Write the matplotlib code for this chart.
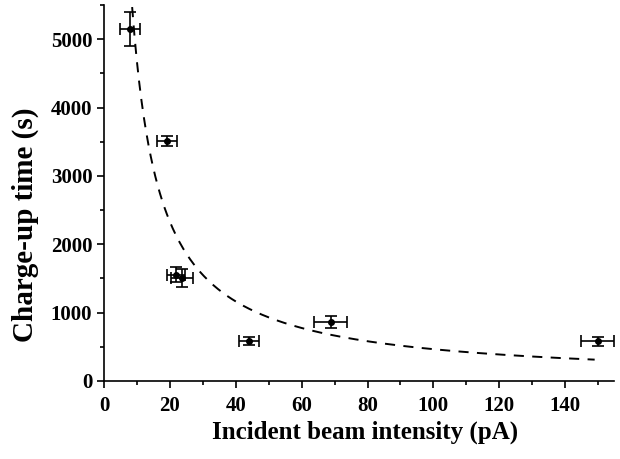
import numpy as np
import matplotlib
matplotlib.use("Agg")
import matplotlib.pyplot as plt
from matplotlib.ticker import MultipleLocator

plt.rcParams['font.family'] = ['Liberation Serif', 'DejaVu Serif']
plt.rcParams['font.weight'] = 'bold'

# beam intensity (pA) and charge-up time (s)
intensity = [7.9, 19.1, 21.9, 23.6, 43.9, 68.8, 150.0]
intensity_err = [3.0, 3.0, 2.8, 3.3, 3.0, 5.0, 5.0]
charge_time = [5150, 3510, 1555, 1505, 580, 860, 580]
charge_time_err = [250, 75, 110, 130, 60, 85, 70]

# fitted curve t = A / I
fit_A = 46500
fit_range = (8.5, 149)

fig = plt.figure(figsize=(6.2, 4.59), dpi=100)
ax = fig.add_axes([0.168, 0.170, 0.823, 0.819])

xf = np.linspace(fit_range[0], fit_range[1], 400)
ax.plot(xf, fit_A / xf, color='black', linestyle=(0, (5.2, 4.3)), linewidth=1.4)

ax.errorbar(intensity, charge_time, xerr=intensity_err, yerr=charge_time_err,
            fmt='o', color='black', markersize=4, capsize=4, elinewidth=1.2,
            capthick=1.2)

ax.set_xlim(0, 155)
ax.set_ylim(0, 5500)
ax.xaxis.set_major_locator(MultipleLocator(20))
ax.xaxis.set_minor_locator(MultipleLocator(10))
ax.yaxis.set_major_locator(MultipleLocator(1000))
ax.yaxis.set_minor_locator(MultipleLocator(500))
ax.spines['top'].set_visible(False)
ax.spines['right'].set_visible(False)
for s in ('left', 'bottom'):
    ax.spines[s].set_linewidth(1.2)
ax.tick_params(which='major', direction='out', length=5, width=1.2, labelsize=15)
ax.tick_params(axis='x', which='major', pad=5.5)
ax.tick_params(which='minor', direction='out', length=3, width=1.2)

ax.set_xlabel('Incident beam intensity (pA)', fontsize=18, fontweight='bold')
ax.set_ylabel('Charge-up time (s)', fontsize=21, fontweight='bold')
ax.xaxis.set_label_coords(0.512, -0.106)
ax.yaxis.set_label_coords(-0.127, 0.415)

fig.savefig('out.png', dpi=100)
